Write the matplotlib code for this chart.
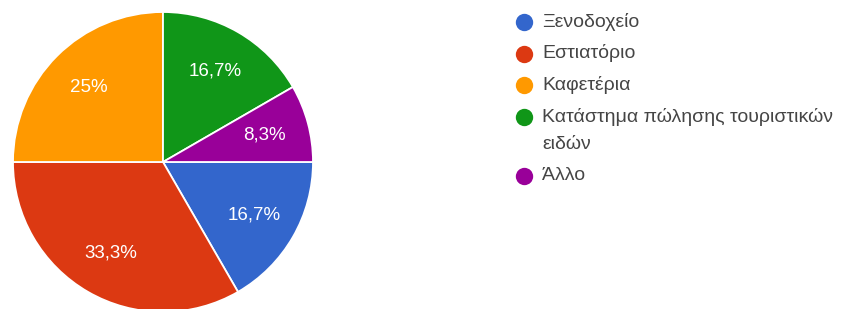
import matplotlib.pyplot as plt
from matplotlib.lines import Line2D

plt.rcParams['font.family'] = ['Liberation Sans', 'DejaVu Sans']

labels = ["Ξενοδοχείο", "Εστιατόριο", "Καφετέρια",
          "Κατάστημα πώλησης τουριστικών\nειδών", "Άλλο"]
counts = [2, 4, 3, 2, 1]
colors = ["#3366CC", "#DC3912", "#FF9900", "#109618", "#990099"]


def pct(p):
    s = f"{p:.1f}".replace(".", ",")
    if s.endswith(",0"):
        s = s[:-2]
    return s + "%"


W, H = 845, 309
fig = plt.figure(figsize=(W / 100, H / 100), dpi=100)

# pie: centre (163,162) px from top, radius 150 px
cx, cy, r = 163, 162, 150
ax = fig.add_axes([(cx - r) / W, (H - cy - r) / H, 2 * r / W, 2 * r / H])
ax.pie(counts, colors=colors, startangle=0, counterclock=False,
       autopct=pct, pctdistance=0.7, radius=1,
       wedgeprops=dict(edgecolor="white", linewidth=1.3),
       textprops=dict(color="white", fontsize=13.5))
ax.set_xlim(-1, 1)
ax.set_ylim(-1, 1)
ax.set_aspect("equal")
ax.axis("off")

# legend, drawn by hand so the marker sits on the first line
y = 22
for lab, col in zip(labels, colors):
    fig.add_artist(Line2D([524 / W], [(H - y) / H], marker="o", markersize=12.5,
                          color=col, markeredgewidth=0,
                          transform=fig.transFigure))
    for line in lab.split("\n"):
        fig.text(542 / W, (H - y) / H, line, fontsize=14, color="#454545",
                 va="center")
        y += 28
    y += 3.5

fig.savefig("out.png", dpi=100)
